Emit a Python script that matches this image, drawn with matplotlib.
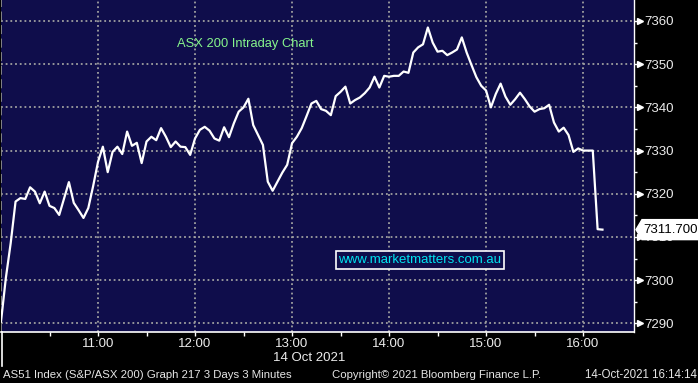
import matplotlib
matplotlib.use("Agg")
import matplotlib.pyplot as plt
import pandas as pd
from matplotlib.ticker import MultipleLocator, FixedLocator
from matplotlib.patches import Polygon
from matplotlib.lines import Line2D
from matplotlib.transforms import IdentityTransform, blended_transform_factory, offset_copy
import matplotlib.dates as mdates

# ---------------- data ----------------
session_start = "2021-10-14 10:00"
interval = "3min"
values = [
    7290.4, 7300.5, 7308.6, 7318.2, 7319.0, 7318.8, 7321.5, 7320.5, 7317.8, 7320.5,
    7317.2, 7316.7, 7315.1, 7318.9, 7322.7, 7317.9, 7316.2, 7314.4, 7316.7, 7321.8,
    7327.4, 7330.9, 7325.0, 7329.7, 7330.9, 7329.2, 7334.4, 7331.1, 7331.8, 7327.1,
    7332.1, 7333.2, 7332.4, 7335.2, 7333.2, 7330.8, 7332.1, 7330.9, 7330.8, 7329.0,
    7332.8, 7334.8, 7335.5, 7334.6, 7332.8, 7332.3, 7335.4, 7333.1, 7336.3, 7339.0,
    7340.0, 7342.0, 7335.9, 7333.6, 7331.3, 7322.8, 7320.7, 7322.8, 7324.9, 7326.7,
    7331.7, 7333.2, 7335.2, 7338.0, 7340.9, 7341.5, 7339.6, 7339.2, 7338.2, 7342.6,
    7343.6, 7344.8, 7340.9, 7341.7, 7342.3, 7343.3, 7344.6, 7347.1, 7344.6, 7347.3,
    7347.1, 7347.3, 7347.3, 7348.3, 7348.0, 7352.7, 7353.9, 7354.6, 7358.5, 7355.0,
    7352.9, 7353.1, 7352.1, 7352.7, 7353.4, 7356.2, 7352.7, 7349.8, 7347.0, 7345.0,
    7343.9, 7340.0, 7343.1, 7345.5, 7342.5, 7340.6, 7341.9, 7343.4, 7341.9, 7340.2,
    7339.0, 7339.6, 7339.8, 7340.6, 7336.5, 7334.4, 7335.3, 7333.6, 7329.7, 7330.5,
    7330.0, 7330.0, 7330.0, 7311.8, 7311.7,
]
last_value_label = "7311.700"
y_ticks = [7290, 7300, 7310, 7320, 7330, 7340, 7350, 7360]
x_tick_labels = ["11:00", "12:00", "13:00", "14:00", "15:00", "16:00"]
x_minor_labels = ["10:30", "11:30", "12:30", "13:30", "14:30", "15:30"]
day = "2021-10-14"
date_label = "14 Oct 2021"
title = "ASX 200 Intraday Chart"
watermark = "www.marketmatters.com.au"
footer_left = "AS51 Index (S&P/ASX 200) Graph 217 3 Days 3 Minutes"
footer_mid = "Copyright\u00a9 2021 Bloomberg Finance L.P."
footer_right = "14-Oct-2021 16:14:14"

# ---------------- style ----------------
W, H = 698, 383
BG = "#0f0d4b"
plt.rcParams["font.family"] = ["Liberation Sans", "DejaVu Sans"]

fig = plt.figure(figsize=(W / 100, H / 100), dpi=100, facecolor="black")
ax = fig.add_axes([1 / W, 51 / H, 633 / W, 332 / H])
ax.set_facecolor(BG)

times = pd.date_range(session_start, periods=len(values), freq=interval)
ax.plot(times, values, color="white", lw=1.6, solid_joinstyle="round", zorder=3)

ax.set_xlim(pd.Timestamp(f"{day} 10:00"), pd.Timestamp(f"{day} 16:31:30"))
ax.set_ylim(7288.0, 7364.86)

for s in ["top", "left"]:
    ax.spines[s].set_visible(False)
ax.spines["right"].set_color("white")
ax.spines["right"].set_linewidth(1.0)
ax.spines["bottom"].set_color("white")
ax.spines["bottom"].set_linewidth(1.2)

# y axis (right)
ax.yaxis.tick_right()
ax.yaxis.set_major_locator(FixedLocator(y_ticks))
ax.yaxis.set_minor_locator(MultipleLocator(5))
ax.tick_params(axis="y", which="major", length=5, width=1, color="white",
               pad=2.5, labelsize=9.5, labelcolor="#ececec")
ax.tick_params(axis="y", which="minor", length=2.5, width=1, color="white")
ytr = offset_copy(blended_transform_factory(ax.transAxes, ax.transData),
                  fig=fig, x=4.6, y=0, units="points")
ax.plot([1.0] * len(y_ticks), y_ticks, ls="none", marker=">", ms=4.2,
        color="white", transform=ytr, clip_on=False, zorder=4)

# x axis
xt = [mdates.date2num(pd.Timestamp(f"{day} {t}")) for t in x_tick_labels]
xm = [mdates.date2num(pd.Timestamp(f"{day} {t}")) for t in x_minor_labels]
ax.xaxis.set_major_locator(FixedLocator(xt))
ax.xaxis.set_minor_locator(FixedLocator(xm))
ax.set_xticklabels(x_tick_labels)
ax.tick_params(axis="x", which="both", length=3, width=1, color="white",
               pad=1.5, labelsize=9.5, labelcolor="#ececec")

# grid
ax.grid(True, which="major", axis="both", color="#a0a0a0", lw=1.3,
        linestyle=(0, (1, 1.6)), zorder=1)
ax.set_axisbelow(True)
ax.axvline(ax.get_xlim()[0], color="#8c8c8c", lw=1.3, linestyle=(0, (5, 2.5)),
           zorder=2)


def fx(x):
    return x / W


def fy(y):
    return 1 - y / H


# separator at lower-left
fig.add_artist(Line2D([fx(2), fx(2)], [fy(332), fy(366)], color="white", lw=1.2))

fig.text(fx(273), fy(358), date_label, color="#ececec", fontsize=9.5, va="center", ha="left")
fig.text(fx(177), fy(44), title, color="#86f58c", fontsize=9.3, va="center", ha="left")
fig.text(fx(420), fy(260), watermark, color="#00e4f0", fontsize=9.5, va="center", ha="center",
         bbox=dict(facecolor=BG, edgecolor="white", lw=1.2, boxstyle="square,pad=0.22"))

fig.text(fx(3), fy(375), footer_left, color="#e6e6e6", fontsize=8.2, va="center", ha="left")
fig.text(fx(332), fy(375), footer_mid, color="#e6e6e6", fontsize=8.2, va="center", ha="left")
fig.text(fx(697), fy(375), footer_right, color="#e6e6e6", fontsize=8.3, va="center", ha="right")

# last value label
fig.canvas.draw()
px, py = ax.transData.transform((ax.get_xlim()[1], values[-1]))
tip = px + 2
verts = [(tip, py), (tip + 6, py + 10), (W + 5, py + 10), (W + 5, py - 10), (tip + 6, py - 10)]
fig.add_artist(Polygon(verts, closed=True, transform=IdentityTransform(),
                       facecolor="white", edgecolor="white", zorder=10))
fig.text((tip + 7) / W, py / H, last_value_label, color="black", fontsize=9.5,
         va="center", ha="left", zorder=11)

fig.savefig("out.png", dpi=100, facecolor="black")
